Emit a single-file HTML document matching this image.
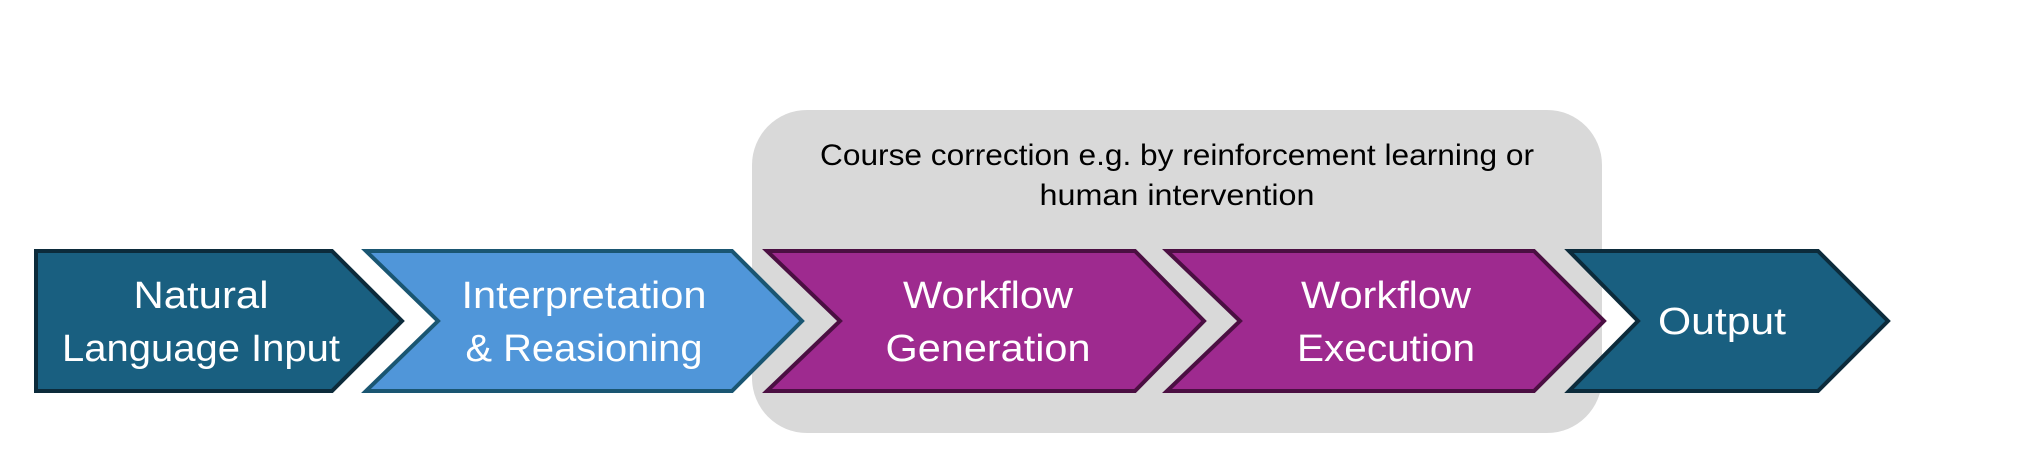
<!DOCTYPE html>
<html><head><meta charset="utf-8"><style>
html,body{margin:0;padding:0;background:#fff;}
svg{display:block;}
text{font-family:"Liberation Sans",sans-serif;}
</style></head><body>
<svg width="2032" height="468" viewBox="0 0 2032 468" xmlns="http://www.w3.org/2000/svg">
<rect x="752" y="110" width="850" height="323" rx="55" ry="55" fill="#d9d9d9"/>
<g stroke-width="4" stroke-linejoin="miter">
<polygon points="36,251 332,251 402,321 332,391 36,391" fill="#195f80" stroke="#0c2b3b"/>
<polygon points="366,251 732,251 802,321 732,391 366,391 438,321" fill="#5096d9" stroke="#1a5672"/>
<polygon points="767,251 1135,251 1204,321 1135,391 767,391 840,321" fill="#9e2a8f" stroke="#4b0f42"/>
<polygon points="1167,251 1534,251 1604,321 1534,391 1167,391 1240,321" fill="#9e2a8f" stroke="#4b0f42"/>
<polygon points="1569,251 1818,251 1888,321 1818,391 1569,391 1638,321" fill="#195f80" stroke="#0c2b3b"/>
</g>
<g fill="#fff" font-size="38" text-anchor="middle">
<text x="201" y="308" textLength="135" lengthAdjust="spacingAndGlyphs">Natural</text>
<text x="201" y="361" textLength="278" lengthAdjust="spacingAndGlyphs">Language Input</text>
<text x="584" y="308" textLength="245" lengthAdjust="spacingAndGlyphs">Interpretation</text>
<text x="584" y="361" textLength="237" lengthAdjust="spacingAndGlyphs">&amp; Reasioning</text>
<text x="988" y="308" textLength="170" lengthAdjust="spacingAndGlyphs">Workflow</text>
<text x="988" y="361" textLength="205" lengthAdjust="spacingAndGlyphs">Generation</text>
<text x="1386" y="308" textLength="170" lengthAdjust="spacingAndGlyphs">Workflow</text>
<text x="1386" y="361" textLength="178" lengthAdjust="spacingAndGlyphs">Execution</text>
<text x="1722" y="334" textLength="128" lengthAdjust="spacingAndGlyphs">Output</text>
</g>
<g fill="#000" font-size="30" text-anchor="middle">
<text x="1177" y="165" textLength="714" lengthAdjust="spacingAndGlyphs">Course correction e.g. by reinforcement learning or</text>
<text x="1177" y="205" textLength="275" lengthAdjust="spacingAndGlyphs">human intervention</text>
</g>
</svg>
</body></html>
